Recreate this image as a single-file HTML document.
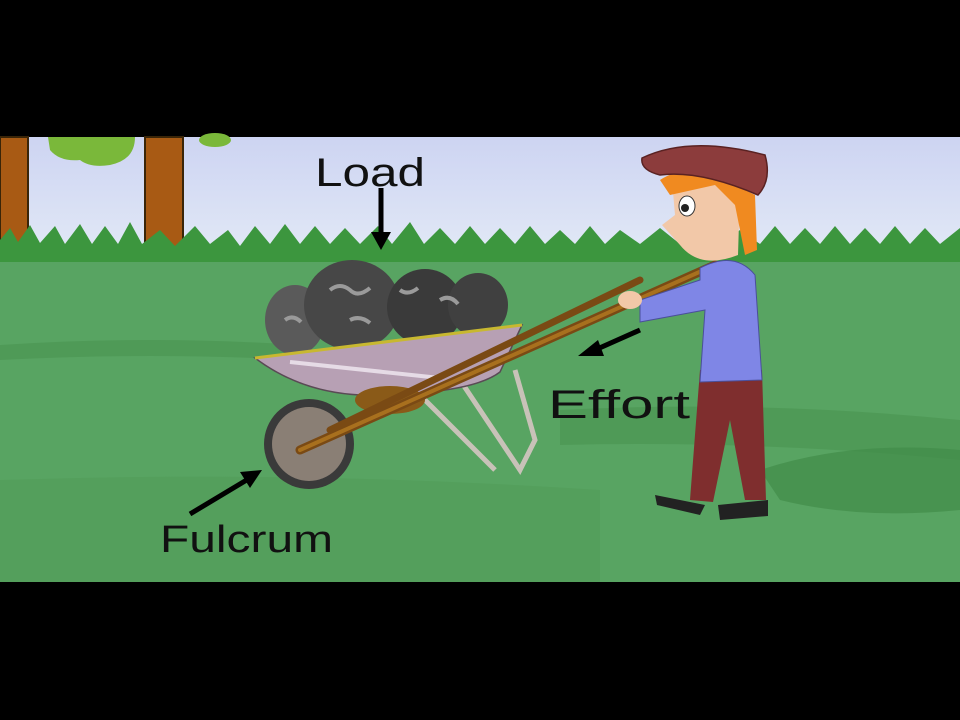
<!DOCTYPE html>
<html><head><meta charset="utf-8"><style>
html,body{margin:0;padding:0;background:#000;}
svg{display:block}
text{font-family:"Liberation Sans",sans-serif;}
</style></head><body>
<svg width="960" height="720" viewBox="0 0 960 720" xmlns="http://www.w3.org/2000/svg">
<defs>
<linearGradient id="sky" x1="0" y1="0" x2="0" y2="1"><stop offset="0" stop-color="#cdd4f2"/><stop offset="1" stop-color="#e2e9f6"/></linearGradient>
</defs>
<rect width="960" height="720" fill="#000"/>
<rect x="0" y="137" width="960" height="120" fill="url(#sky)"/>
<!-- trees -->
<rect x="0" y="137" width="28" height="115" fill="#a85a14" stroke="#3a2508" stroke-width="2"/>
<rect x="145" y="137" width="38" height="115" fill="#a85a14" stroke="#3a2508" stroke-width="2"/>
<path d="M48 137 L135 137 Q135 160 110 165 Q90 168 80 160 Q60 162 50 150Z" fill="#7ab83a"/>
<ellipse cx="215" cy="140" rx="16" ry="7" fill="#7ab83a"/>
<!-- ground -->
<rect x="0" y="250" width="960" height="332" fill="#58a462"/>
<path d="M0 240 L10 228 L18 242 L30 225 L40 243 L55 226 L65 244 L80 224 L92 244 L105 226 L118 244 L130 222 L142 244 L160 230 L175 246 L195 226 L210 244 L228 230 L240 246 L255 226 L270 244 L285 224 L300 244 L315 226 L330 244 L345 228 L360 244 L378 226 L392 244 L410 222 L424 244 L440 228 L455 244 L470 226 L485 244 L500 228 L515 244 L530 226 L545 244 L560 230 L575 244 L590 226 L605 244 L620 230 L640 244 L660 228 L680 244 L700 226 L720 244 L740 230 L760 244 L775 226 L790 244 L805 228 L820 244 L835 226 L850 244 L865 228 L880 244 L895 226 L910 244 L925 228 L940 244 L960 228 L960 262 L0 262Z" fill="#3c963e"/>
<path d="M0 345 Q150 335 300 345 L300 360 Q150 352 0 360Z" fill="#4b9652" opacity="0.7"/>
<path d="M560 410 Q760 400 960 420 L960 460 Q760 440 560 445Z" fill="#4a9450" opacity="0.6"/>
<path d="M760 470 Q850 440 960 450 L960 510 Q860 520 780 500Z" fill="#428c48" opacity="0.7"/>
<path d="M0 480 Q300 470 600 490 L600 582 L0 582Z" fill="#529c58" opacity="0.6"/>
<!-- stand legs -->
<path d="M460 380 L520 470 L535 440 L515 370" fill="none" stroke="#c8c2b8" stroke-width="5"/>
<path d="M420 395 L495 470" fill="none" stroke="#c8c2b8" stroke-width="5"/>
<!-- load -->
<ellipse cx="295" cy="320" rx="30" ry="35" fill="#5a5a5a"/>
<ellipse cx="352" cy="305" rx="48" ry="45" fill="#474747"/>
<ellipse cx="425" cy="307" rx="38" ry="38" fill="#3a3a3a"/>
<ellipse cx="478" cy="305" rx="30" ry="32" fill="#404040"/>
<path d="M330 290 q10 -8 20 0 q8 8 20 -2 M400 290 q8 6 18 -2 M350 320 q10 -5 20 3 M440 300 q10 -6 18 4 M285 320 q8 -6 16 2" stroke="#9a9a9a" stroke-width="4" fill="none"/>
<!-- tray -->
<path d="M255 358 L522 325 L500 372 Q470 395 360 395 Q300 392 255 358Z" fill="#b7a0b4" stroke="#5a4a55" stroke-width="1.5"/>
<path d="M255 358 L522 325" stroke="#c8b830" stroke-width="3"/>
<path d="M290 362 L440 378" stroke="#e6dbe6" stroke-width="4"/>
<ellipse cx="390" cy="400" rx="35" ry="14" fill="#8a5a18"/>
<!-- wheel -->
<circle cx="309" cy="444" r="45" fill="#3a3a3a"/>
<circle cx="309" cy="444" r="37" fill="#8a7f75"/>
<!-- handles -->
<path d="M300 450 L715 265" stroke="#7a4a14" stroke-width="9" stroke-linecap="round"/>
<path d="M300 450 L715 265" stroke="#a8701e" stroke-width="4" stroke-linecap="round"/>
<path d="M330 430 L640 280" stroke="#7a4a14" stroke-width="7" stroke-linecap="round"/>
<!-- person -->
<path d="M700 370 L690 500 L713 502 L730 420 L745 500 L766 500 L762 370Z" fill="#7f2e2e"/>
<path d="M655 495 L705 505 L700 515 L657 505Z" fill="#222"/>
<path d="M718 505 L768 500 L768 516 L720 520Z" fill="#222"/>
<path d="M700 268 Q735 250 755 275 L762 380 L700 382 L705 310 L640 322 L640 300 L700 280Z" fill="#7f86e6" stroke="#4a4f9a" stroke-width="1"/>
<ellipse cx="630" cy="300" rx="12" ry="9" fill="#f2c8a8"/>
<path d="M672 180 Q710 165 740 190 L738 255 Q700 270 680 245 L662 225 L675 215Z" fill="#f2c8a8"/>
<path d="M660 180 Q690 160 735 185 L755 195 L757 250 L745 255 L735 205 L715 185 L670 195Z" fill="#f08a20"/>
<ellipse cx="687" cy="206" rx="8" ry="10" fill="#fff" stroke="#333"/>
<circle cx="685" cy="208" r="4" fill="#222"/>
<path d="M642 158 Q690 135 765 155 Q772 180 758 195 Q700 170 660 175 Q640 170 642 158Z" fill="#8c3c3c" stroke="#5a2222" stroke-width="1.5"/>
<!-- labels -->
<text x="315" y="186" font-size="40" fill="#111" textLength="110" lengthAdjust="spacingAndGlyphs">Load</text>
<line x1="381" y1="188" x2="381" y2="238" stroke="#000" stroke-width="5"/>
<path d="M371 232 L381 250 L391 232Z" fill="#000"/>
<line x1="640" y1="330" x2="595" y2="350" stroke="#000" stroke-width="5"/>
<path d="M598 340 L578 356 L604 356Z" fill="#000"/>
<text x="548" y="418" font-size="40" fill="#111" textLength="142" lengthAdjust="spacingAndGlyphs">Effort</text>
<line x1="190" y1="514" x2="250" y2="478" stroke="#000" stroke-width="5"/>
<path d="M240 472 L262 470 L250 488Z" fill="#000"/>
<text x="160" y="552" font-size="38" fill="#111" textLength="173" lengthAdjust="spacingAndGlyphs">Fulcrum</text>
</svg>
</body></html>
